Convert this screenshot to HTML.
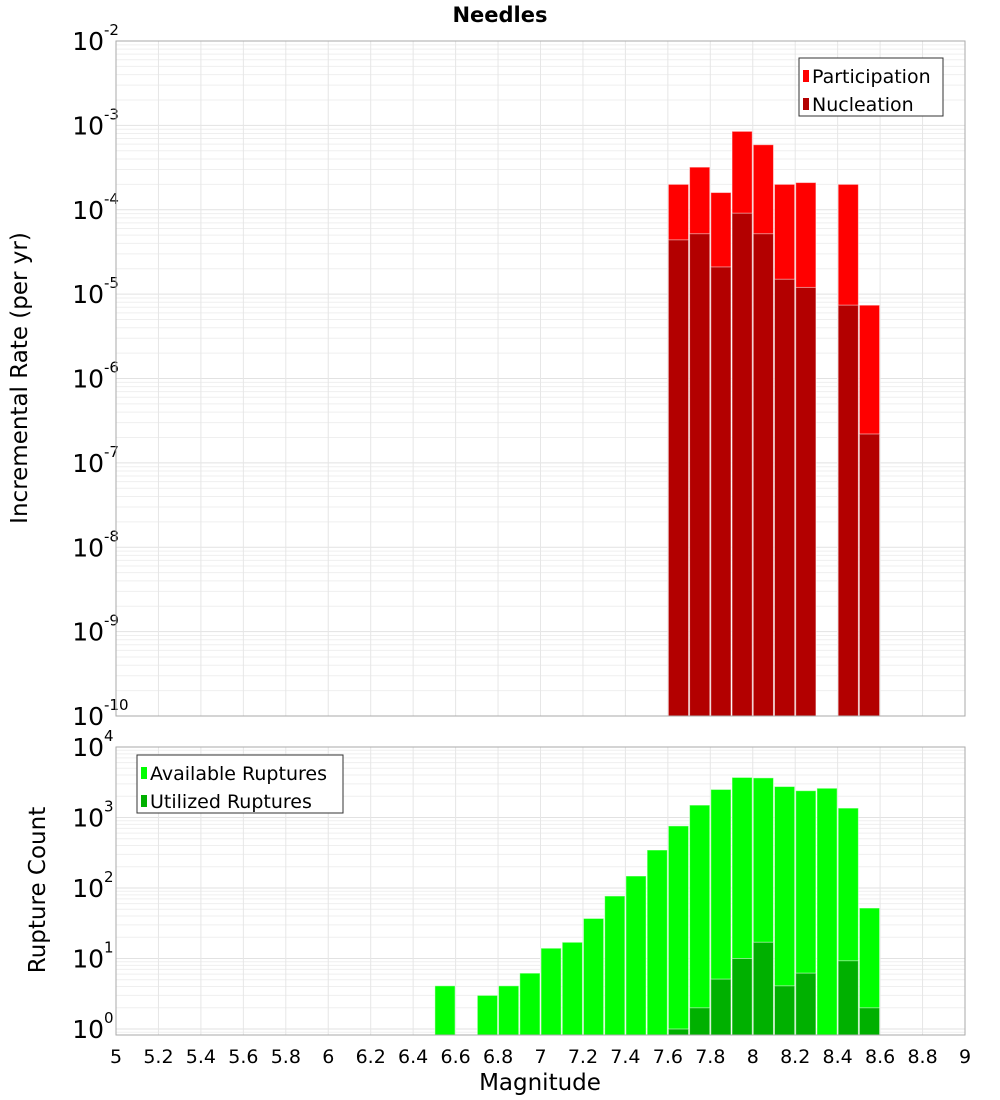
<!DOCTYPE html>
<html><head><meta charset="utf-8"><style>
body{margin:0;background:#fff;}
svg{display:block;font-family:"DejaVu Sans","Liberation Sans",sans-serif;}
</style></head><body>
<svg id="chart" width="1000" height="1100" xmlns="http://www.w3.org/2000/svg">
<text x="500" y="22" text-anchor="middle" font-size="21" font-weight="bold">Needles</text>
<g id="top"></g>
<g id="bot"></g>
<text transform="translate(27,378) rotate(-90)" text-anchor="middle" font-size="23">Incremental Rate (per yr)</text>
<text transform="translate(45,890) rotate(-90)" text-anchor="middle" font-size="23">Rupture Count</text>
<text x="540" y="1090" text-anchor="middle" font-size="23">Magnitude</text>
</svg>
<script>
const topBins=[7.65,7.75,7.85,7.95,8.05,8.15,8.25,8.45,8.55];
const participation=[2.0e-4,3.2e-4,1.6e-4,8.5e-4,5.9e-4,2.0e-4,2.1e-4,2.0e-4,7.4e-6];
const nucleation=[4.4e-5,5.2e-5,2.1e-5,9.1e-5,5.2e-5,1.5e-5,1.2e-5,7.4e-6,2.2e-7];
const availBins=[6.55,6.75,6.85,6.95,7.05,7.15,7.25,7.35,7.45,7.55,7.65,7.75,7.85,7.95,8.05,8.15,8.25,8.35,8.45,8.55];
const available=[4.1,3.0,4.1,6.2,14,17,37,77,148,346,760,1500,2500,3700,3650,2750,2400,2600,1360,52];
const utilBins=[7.65,7.75,7.85,7.95,8.05,8.15,8.25,8.45,8.55];
const utilized=[1.0,2.0,5.1,10,17,4.1,6.2,9.3,2.0];
const xTicks=["5","5.2","5.4","5.6","5.8","6","6.2","6.4","6.6","6.8","7","7.2","7.4","7.6","7.8","8","8.2","8.4","8.6","8.8","9"];
const NS="http://www.w3.org/2000/svg";
const X0=116,X1=965,xMin=5,xMax=9;
const x=v=>X0+(v-xMin)/(xMax-xMin)*(X1-X0);
function mk(p,t,a){const e=document.createElementNS(NS,t);for(const k in a)e.setAttribute(k,a[k]);p.appendChild(e);return e;}
function panel(g,Y0,Y1,lmin,lmax,name){
  const y=v=>Y1-(Math.log10(v)-lmin)/(lmax-lmin)*(Y1-Y0);
  mk(g,'rect',{x:X0,y:Y0,width:X1-X0,height:Y1-Y0,fill:'#fff'});
  for(let d=Math.floor(lmin);d<lmax;d++)for(let m=1;m<10;m++){const v=m*Math.pow(10,d);const yy=y(v);if(yy<Y0||yy>Y1)continue;
    const l=mk(g,'line',{x1:X0,x2:X1,y1:yy,y2:yy,stroke:m==1?'#e2e2e2':'#efefef','stroke-width':1});
    }
  xTicks.forEach(t=>{const xx=x(+t);const l=mk(g,'line',{x1:xx,x2:xx,y1:Y0,y2:Y1,stroke:'#e6e6e6'});
    });
  for(let d=Math.ceil(lmin);d<=lmax;d++){const yy=y(Math.pow(10,d));
    const t=mk(g,'text',{x:104,y:yy+9,'text-anchor':'end','font-size':25});
    
    t.textContent='10';const s=mk(g,'text',{x:104,y:yy-6,'font-size':15});s.textContent=String(d);
    }
  return y;
}
function bars(g,y,Y1,bins,vals,fill,name){
  bins.forEach((b,i)=>{const x0=x(b-0.05)+0.5,x1=x(b+0.05)-0.5;const yy=Math.max(y(vals[i]),0);
    const r=mk(g,'rect',{x:x0,y:yy,width:x1-x0,height:Y1-yy,fill:fill,stroke:'#fff','stroke-opacity':0.5,'stroke-width':1});
    });
}
function legend(g,lx,ly,w,items,name){
  const r=mk(g,'rect',{x:lx,y:ly,width:w,height:58,fill:'#fff',stroke:'#333','stroke-width':1});
  
  items.forEach((it,i)=>{const yy=ly+20+i*28;
    const s=mk(g,'rect',{x:lx+4,y:yy-8,width:6,height:12,fill:it[1]});
    
    const t=mk(g,'text',{x:lx+13,y:yy+5,'font-size':19});t.textContent=it[0];
    });
}
const gt=document.getElementById('top');
const yt=panel(gt,41,716,-10,-2,'rate');
bars(gt,yt,716,topBins,participation,'#ff0000','participation-bar');
bars(gt,yt,716,topBins,nucleation,'#b30000','nucleation-bar');
mk(gt,'rect',{x:X0,y:41,width:X1-X0,height:675,fill:'none',stroke:'#aaa'});
legend(gt,799,58,144,[['Participation','#ff0000'],['Nucleation','#b30000']],'rate-legend');
const gb=document.getElementById('bot');
const yb=panel(gb,747,1035,-0.085,4,'count');
bars(gb,yb,1035,availBins,available,'#00ff00','available-bar');
bars(gb,yb,1035,utilBins,utilized,'#00b000','utilized-bar');
mk(gb,'rect',{x:X0,y:747,width:X1-X0,height:288,fill:'none',stroke:'#aaa'});
legend(gb,137,755,206,[['Available Ruptures','#00ff00'],['Utilized Ruptures','#00b000']],'count-legend');
xTicks.forEach(t=>{const e=mk(gb,'text',{x:x(+t),y:1063,'text-anchor':'middle','font-size':19});e.textContent=t;
  });
</script>
</body></html>
